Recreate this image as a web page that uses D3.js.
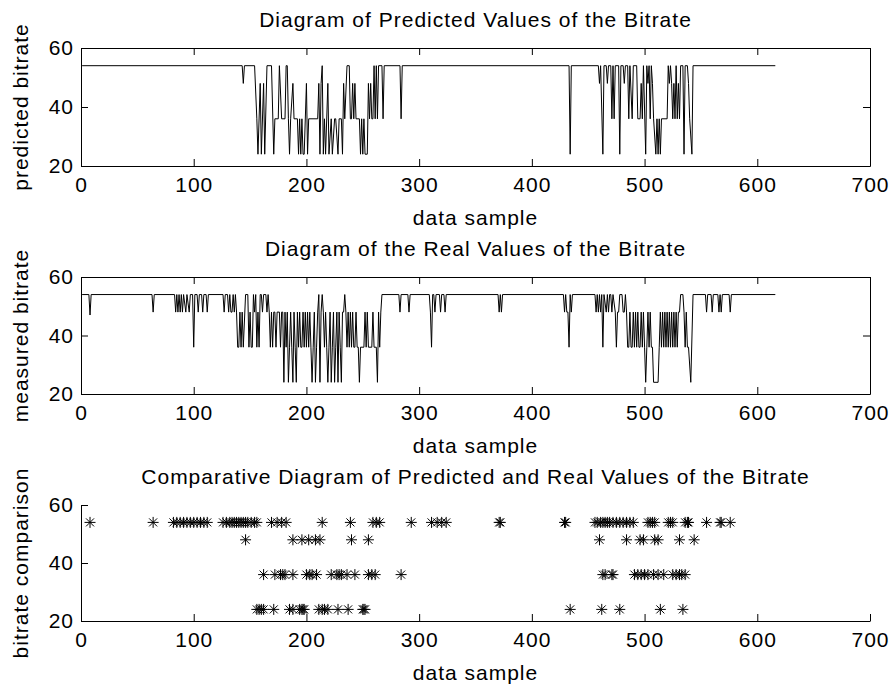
<!DOCTYPE html>
<html>
<head>
<meta charset="utf-8">
<script src="https://cdn.jsdelivr.net/npm/d3@7"></script>
<style>
body { margin: 0; background: #fff; }
svg text { font-family: "Liberation Sans", Arial, sans-serif; letter-spacing: 1px; fill: #000; }
</style>
</head>
<body>
<script>
// tick labels
var xTicks = [0, 100, 200, 300, 400, 500, 600, 700],
    yTicks = [20, 40, 60];

// predicted bitrate, [sample, value] at every change of the line
var predicted = [[1,54],[143,54],[144,48],[145,54],[154,54],[156,36],[157,24],[159,48],[160,24],[162,48],[163,24],[165,54],[169,54],[171,24],[172,36],[175,36],[176,54],[178,36],[181,36],[182,54],[183,54],[184,36],[185,24],[186,36],[188,48],[189,36],[192,36],[193,24],[194,36],[195,24],[196,36],[197,24],[198,24],[200,48],[201,24],[202,36],[210,36],[211,48],[212,24],[213,48],[214,54],[215,24],[216,36],[217,24],[219,48],[220,24],[222,36],[223,24],[225,36],[226,36],[228,24],[229,36],[231,36],[232,24],[233,48],[234,36],[236,54],[238,54],[239,36],[240,36],[241,48],[242,36],[243,48],[244,36],[247,36],[248,24],[249,36],[250,24],[251,36],[252,24],[254,24],[255,48],[256,36],[257,48],[258,36],[259,36],[260,54],[261,36],[262,54],[263,36],[264,54],[267,54],[268,36],[269,54],[283,54],[284,36],[285,54],[433,54],[434,24],[435,54],[459,54],[460,48],[461,54],[463,24],[464,54],[466,54],[467,48],[468,54],[470,54],[471,36],[472,54],[473,36],[474,54],[477,54],[478,24],[479,54],[481,54],[482,48],[483,54],[485,54],[486,36],[487,54],[489,36],[490,54],[493,54],[494,36],[496,36],[497,48],[498,36],[499,54],[501,24],[502,54],[503,48],[504,54],[505,36],[506,54],[507,48],[508,36],[510,24],[511,36],[512,24],[513,36],[514,24],[515,36],[520,36],[521,54],[522,48],[523,54],[524,48],[525,36],[526,48],[527,36],[528,54],[529,36],[530,48],[531,36],[532,54],[534,54],[535,24],[536,54],[538,54],[539,48],[540,36],[542,24],[543,54],[616,54]];

// measured bitrate
var measured = [[1,54],[7,54],[8,47],[9,54],[63,54],[64,48],[65,54],[83,54],[84,48],[85,54],[86,48],[87,54],[88,48],[89,54],[90,48],[91,54],[93,48],[94,54],[96,48],[97,54],[99,54],[100,36],[101,54],[103,54],[104,48],[105,54],[107,54],[108,48],[109,54],[111,54],[112,48],[113,54],[126,54],[127,48],[128,54],[130,54],[131,48],[132,54],[133,48],[134,48],[135,54],[136,48],[137,54],[138,48],[139,36],[140,36],[141,48],[142,36],[143,48],[144,36],[146,54],[148,54],[149,36],[150,48],[151,36],[152,36],[153,54],[154,48],[155,54],[156,36],[157,48],[158,36],[159,54],[160,54],[161,48],[162,54],[164,54],[165,48],[166,54],[167,48],[168,36],[169,48],[170,36],[171,48],[172,48],[173,36],[174,48],[176,48],[177,36],[178,48],[179,48],[180,24],[181,48],[182,36],[183,48],[184,24],[185,36],[186,48],[187,36],[188,24],[189,48],[190,36],[191,24],[192,48],[193,36],[194,48],[195,36],[196,36],[197,48],[198,36],[199,48],[200,36],[201,48],[202,36],[203,48],[204,36],[205,24],[206,36],[207,48],[208,24],[209,36],[210,48],[211,54],[212,24],[213,48],[214,54],[215,48],[216,36],[217,48],[218,36],[219,24],[220,36],[221,48],[222,24],[223,36],[224,48],[225,24],[226,36],[227,48],[228,24],[229,48],[230,36],[231,24],[232,48],[233,48],[234,54],[235,48],[236,36],[237,48],[238,36],[239,48],[240,36],[241,48],[242,36],[243,36],[244,48],[245,36],[246,36],[247,24],[248,36],[251,36],[252,48],[253,36],[254,48],[255,36],[258,36],[259,48],[260,36],[262,36],[263,24],[264,48],[265,36],[266,48],[267,54],[282,54],[283,48],[284,54],[290,54],[291,48],[292,54],[309,54],[310,48],[311,36],[312,54],[313,54],[314,48],[315,54],[318,54],[319,48],[320,54],[322,54],[323,48],[324,54],[370,54],[371,48],[372,54],[373,48],[374,54],[428,54],[429,48],[430,54],[431,48],[432,48],[433,36],[434,54],[435,48],[436,54],[456,54],[457,48],[458,54],[459,48],[460,54],[461,48],[462,54],[463,36],[464,54],[466,48],[467,54],[468,48],[469,54],[470,54],[471,48],[472,54],[474,48],[475,36],[476,48],[477,48],[478,54],[480,54],[481,48],[482,48],[483,54],[484,48],[485,36],[486,36],[487,48],[488,36],[489,36],[490,48],[491,36],[492,48],[493,36],[494,48],[495,36],[496,36],[497,48],[498,36],[499,48],[500,36],[501,24],[502,36],[503,48],[504,36],[505,48],[506,36],[507,36],[508,24],[512,24],[513,36],[514,48],[515,36],[516,48],[517,36],[518,48],[519,36],[520,48],[521,36],[522,48],[523,36],[524,48],[525,36],[526,48],[527,36],[528,48],[529,36],[530,48],[531,48],[532,54],[534,54],[535,48],[536,36],[537,48],[538,36],[539,36],[541,24],[543,54],[554,54],[555,48],[556,54],[559,54],[560,48],[561,54],[565,54],[566,48],[567,54],[568,48],[569,54],[575,54],[576,48],[577,54],[616,54]];

// comparison markers, sample numbers for each bitrate level
var star54 = [8,64,82,85,88,91,94,97,100,103,106,109,112,126,129,132,134,136,138,140,142,144,146,148,151,154,156,169,174,178,182,214,239,259,262,265,293,311,316,320,324,371,372,429,430,456,458,461,463,465,467,469,472,475,478,481,484,487,490,503,505,507,509,521,523,525,536,538,539,555,567,568,576],
    star48 = [146,188,196,202,208,212,240,255,460,484,496,499,509,512,531,544],
    star36 = [162,172,177,179,181,188,200,203,205,209,222,227,229,231,236,243,255,258,261,284,463,465,471,472,491,494,497,500,503,508,512,517,525,528,531,533,536],
    star24 = [156,158,160,162,171,185,188,194,196,197,198,211,214,216,219,228,237,250,251,252,434,462,478,514,534];

var width = 895,
    height = 686;

var svg = d3.select("body").append("svg")
    .attr("width", width)
    .attr("height", height);

var x = d3.scaleLinear().domain([0, 700]).range([81, 870]);

var panels = [
    { top: 48, bottom: 166, box: true, title: "Diagram of Predicted Values of the Bitrate", ylabel: "predicted bitrate" },
    { top: 277, bottom: 394, box: true, title: "Diagram of the Real Values of the Bitrate", ylabel: "measured bitrate" },
    { top: 505, bottom: 621, box: false, title: "Comparative Diagram of Predicted and Real Values of the Bitrate", ylabel: "bitrate comparison" }
];

function styleAxis(g) {
    g.attr("font-size", 21)
        .attr("font-family", null);
    g.selectAll("line, path").attr("stroke", "#000");
}

var yScales = panels.map(function(p) {
    var y = d3.scaleLinear().domain([20, 60]).range([p.bottom, p.top]);

    svg.append("g")
        .attr("transform", "translate(0," + p.bottom + ")")
        .call(d3.axisBottom(x).tickValues(xTicks).tickSize(-7).tickSizeOuter(0).tickPadding(11))
        .call(styleAxis);

    svg.append("g")
        .attr("transform", "translate(" + x(0) + ",0)")
        .call(d3.axisLeft(y).tickValues(yTicks).tickSize(-7).tickSizeOuter(0).tickPadding(7))
        .call(styleAxis);

    if (p.box) {
        svg.append("g")
            .attr("transform", "translate(0," + p.top + ")")
            .call(d3.axisTop(x).tickValues(xTicks).tickSize(-7).tickSizeOuter(0).tickFormat(""))
            .call(styleAxis);
        svg.append("g")
            .attr("transform", "translate(" + x(700) + ",0)")
            .call(d3.axisRight(y).tickValues(yTicks).tickSize(-7).tickSizeOuter(0).tickFormat(""))
            .call(styleAxis);
    }

    svg.append("text")
        .attr("x", (x(0) + x(700)) / 2)
        .attr("y", p.top - 21)
        .attr("text-anchor", "middle")
        .attr("font-size", 21)
        .text(p.title);

    svg.append("text")
        .attr("x", (x(0) + x(700)) / 2)
        .attr("y", p.bottom + 59)
        .attr("text-anchor", "middle")
        .attr("font-size", 21)
        .text("data sample");

    svg.append("text")
        .attr("transform", "translate(28," + (p.top + p.bottom) / 2 + ")rotate(-90)")
        .attr("text-anchor", "middle")
        .attr("font-size", 21)
        .text(p.ylabel);

    return y;
});

var line = function(y) {
    return d3.line()
        .x(function(d) { return x(d[0]); })
        .y(function(d) { return y(d[1]); });
};

svg.append("path")
    .datum(predicted)
    .attr("fill", "none")
    .attr("stroke", "#000")
    .attr("stroke-width", 1)
    .attr("d", line(yScales[0]));

svg.append("path")
    .datum(measured)
    .attr("fill", "none")
    .attr("stroke", "#000")
    .attr("stroke-width", 1)
    .attr("d", line(yScales[1]));

// asterisk markers
var r = 5.5, q = 4;
var starPath = "M" + (-r) + ",0H" + r + "M0," + (-r) + "V" + r +
    "M" + (-q) + "," + (-q) + "L" + q + "," + q +
    "M" + (-q) + "," + q + "L" + q + "," + (-q);

var stars = [];
[[54, star54], [48, star48], [36, star36], [24, star24]].forEach(function(s) {
    s[1].forEach(function(d) { stars.push({ x: d, v: s[0] }); });
});

svg.append("g")
    .selectAll("path")
    .data(stars)
    .enter().append("path")
    .attr("transform", function(d) {
        return "translate(" + [x(d.x), yScales[2](d.v)] + ")";
    })
    .attr("d", starPath)
    .attr("fill", "none")
    .attr("stroke", "#000")
    .attr("stroke-width", 1);
</script>
</body>
</html>
